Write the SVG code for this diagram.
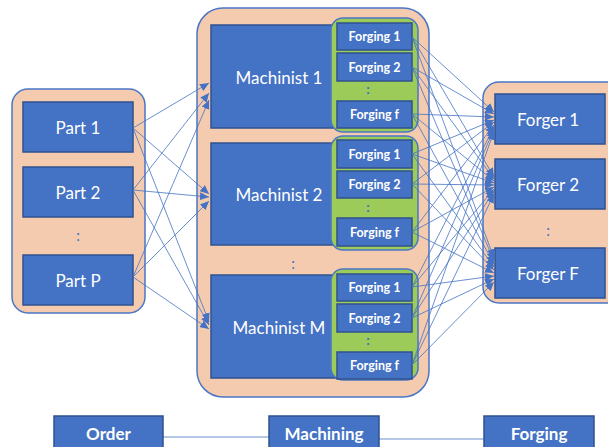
<svg xmlns="http://www.w3.org/2000/svg" width="608" height="447" viewBox="0 0 608 447">
<style>
.cont{fill:#F4CBAE;stroke:#4A76C6;stroke-width:1.5}
.grn{fill:#9CCB5A;stroke:#4A76C6;stroke-width:1.5}
.box{fill:#4472C4;stroke:#2F528F;stroke-width:1.5}
.t{font-family:Lato,"Liberation Sans",sans-serif;fill:#fff;text-anchor:middle;dominant-baseline:central}
.lg{font-size:17px}
.fg{font-size:12.5px;font-weight:bold}
.bt{font-size:17px;font-weight:bold}
.dot{font-family:Lato,"Liberation Sans",sans-serif;font-size:15px;fill:#4472C4;text-anchor:middle;dominant-baseline:central}
.gdot{font-family:Lato,"Liberation Sans",sans-serif;font-size:14px;fill:#4472C4;text-anchor:middle;dominant-baseline:central;font-weight:bold}
#connectors line{stroke:#4472C4;stroke-width:0.8;marker-end:url(#ah)}
.flow{stroke:#B4C7E7;stroke-width:2}
</style>
<defs>
<marker id="ah" markerUnits="userSpaceOnUse" markerWidth="9" markerHeight="8" refX="9" refY="4" orient="auto">
<path d="M0,0 L9,4 L0,8 z" fill="#4472C4"/>
</marker>
</defs>
<rect width="608" height="447" fill="#fff"/>
<g id="parts">
<rect class="cont" x="12" y="89" width="133" height="224" rx="16"/>
<g id="part1"><rect class="box" x="23" y="102" width="110" height="50"/><text class="t lg" x="78" y="127">Part 1</text></g>
<g id="part2"><rect class="box" x="23" y="167" width="110" height="50"/><text class="t lg" x="78" y="192">Part 2</text></g>
<text class="dot" x="78" y="235">:</text>
<g id="partP"><rect class="box" x="23" y="255" width="110" height="50"/><text class="t lg" x="78" y="280">Part P</text></g>
</g>
<g id="machinists">
<rect class="cont" x="197" y="8" width="232" height="389" rx="26"/>
<g id="machinist1">
<rect class="box" x="211" y="25" width="130" height="103"/>
<text class="t lg" x="279" y="77">Machinist 1</text>
<rect class="grn" x="331" y="18" width="87" height="114" rx="12"/>
<g id="m1f1"><rect class="box" x="337" y="23" width="75" height="27"/><text class="t fg" x="374.5" y="36.5">Forging 1</text></g>
<g id="m1f2"><rect class="box" x="337" y="53" width="75" height="28"/><text class="t fg" x="374.5" y="67">Forging 2</text></g>
<text class="gdot" x="368" y="88">:</text>
<g id="m1ff"><rect class="box" x="337" y="101" width="75" height="27"/><text class="t fg" x="374.5" y="114.5">Forging f</text></g>
</g>
<g id="machinist2">
<rect class="box" x="211" y="143" width="130" height="102"/>
<text class="t lg" x="279" y="194">Machinist 2</text>
<rect class="grn" x="331" y="136" width="87" height="114" rx="12"/>
<g id="m2f1"><rect class="box" x="337" y="140" width="75" height="28"/><text class="t fg" x="374.5" y="154">Forging 1</text></g>
<g id="m2f2"><rect class="box" x="337" y="171" width="75" height="27"/><text class="t fg" x="374.5" y="184.5">Forging 2</text></g>
<text class="gdot" x="368" y="206">:</text>
<g id="m2ff"><rect class="box" x="337" y="218" width="75" height="28"/><text class="t fg" x="374.5" y="232">Forging f</text></g>
</g>
<text class="dot" x="293" y="263">:</text>
<g id="machinistM">
<rect class="box" x="211" y="275" width="130" height="103"/>
<text class="t lg" x="279" y="327">Machinist M</text>
<rect class="grn" x="331" y="269" width="87" height="111" rx="12"/>
<g id="m3f1"><rect class="box" x="337" y="274" width="75" height="27"/><text class="t fg" x="374.5" y="287.5">Forging 1</text></g>
<g id="m3f2"><rect class="box" x="337" y="304" width="75" height="28"/><text class="t fg" x="374.5" y="318">Forging 2</text></g>
<text class="gdot" x="368" y="339">:</text>
<g id="m3ff"><rect class="box" x="337" y="352" width="75" height="27"/><text class="t fg" x="374.5" y="365.5">Forging f</text></g>
</g>
</g>
<g id="forgers">
<rect class="cont" x="483" y="82" width="140" height="221" rx="16"/>
<g id="forger1"><rect class="box" x="495" y="94" width="110" height="50"/><text class="t lg" x="548" y="119">Forger 1</text></g>
<g id="forger2"><rect class="box" x="495" y="159" width="110" height="50"/><text class="t lg" x="548" y="184">Forger 2</text></g>
<text class="dot" x="548" y="230">:</text>
<g id="forgerF"><rect class="box" x="495" y="248" width="110" height="50"/><text class="t lg" x="548" y="273">Forger F</text></g>
</g>
<g id="connectors">
<line x1="133" y1="128" x2="209" y2="83"/>
<line x1="133" y1="190" x2="209" y2="93"/>
<line x1="133" y1="277" x2="209" y2="100"/>
<line x1="133" y1="128" x2="209" y2="194"/>
<line x1="133" y1="190" x2="209" y2="197"/>
<line x1="133" y1="277" x2="209" y2="201"/>
<line x1="133" y1="128" x2="209" y2="322"/>
<line x1="133" y1="190" x2="209" y2="325"/>
<line x1="133" y1="277" x2="209" y2="329"/>
<line x1="412" y1="37" x2="494" y2="112"/>
<line x1="412" y1="67" x2="494" y2="114"/>
<line x1="412" y1="114" x2="494" y2="117"/>
<line x1="412" y1="154" x2="494" y2="120"/>
<line x1="412" y1="184" x2="494" y2="122"/>
<line x1="412" y1="232" x2="494" y2="125"/>
<line x1="412" y1="287" x2="494" y2="127"/>
<line x1="412" y1="318" x2="494" y2="129"/>
<line x1="412" y1="365" x2="494" y2="131"/>
<line x1="412" y1="37" x2="494" y2="177"/>
<line x1="412" y1="67" x2="494" y2="179"/>
<line x1="412" y1="114" x2="494" y2="181"/>
<line x1="412" y1="154" x2="494" y2="183"/>
<line x1="412" y1="184" x2="494" y2="185"/>
<line x1="412" y1="232" x2="494" y2="187"/>
<line x1="412" y1="287" x2="494" y2="189"/>
<line x1="412" y1="318" x2="494" y2="191"/>
<line x1="412" y1="365" x2="494" y2="194"/>
<line x1="412" y1="37" x2="494" y2="258"/>
<line x1="412" y1="67" x2="494" y2="261"/>
<line x1="412" y1="114" x2="494" y2="264"/>
<line x1="412" y1="154" x2="494" y2="267"/>
<line x1="412" y1="184" x2="494" y2="270"/>
<line x1="412" y1="232" x2="494" y2="273"/>
<line x1="412" y1="287" x2="494" y2="276"/>
<line x1="412" y1="318" x2="494" y2="279"/>
<line x1="412" y1="365" x2="494" y2="282"/>
</g>
<g id="legend-lines">
<line class="flow" x1="163" y1="437" x2="269" y2="437"/>
<line class="flow" x1="379" y1="439" x2="484" y2="439"/>
</g>
<g id="order"><rect class="box" x="54" y="416" width="109" height="40"/><text class="t bt" x="108.5" y="433">Order</text></g>
<g id="machining"><rect class="box" x="269" y="416" width="110" height="40"/><text class="t bt" x="324" y="433">Machining</text></g>
<g id="forging"><rect class="box" x="484" y="416" width="110" height="40"/><text class="t bt" x="539" y="433">Forging</text></g>
</svg>
